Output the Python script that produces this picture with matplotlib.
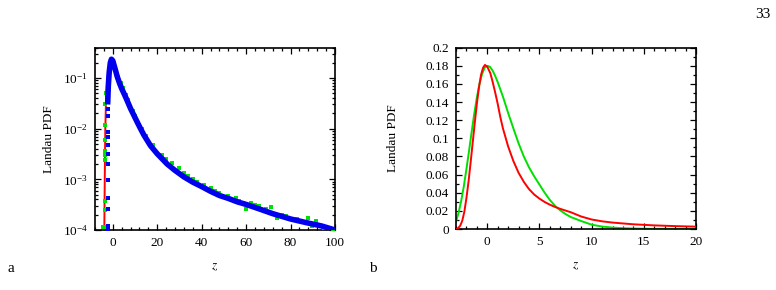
import matplotlib
matplotlib.use('Agg')
import matplotlib.pyplot as plt
from matplotlib.ticker import MultipleLocator, LogLocator, NullFormatter

plt.rcParams['font.family'] = ['Liberation Serif', 'DejaVu Serif']
plt.rcParams['mathtext.fontset'] = 'stix'
plt.rcParams['font.size'] = 9.5

#Panel a: sampled Landau PDF (log scale)
blue_z = [-2.3, -2.0, -1.6, -1.1, -0.6, 0, 1, 2, 3, 4, 5, 6, 8, 11, 12.5, 14, 17, 20, 24.5, 28, 32,
          36, 40, 44, 48, 52, 56, 60, 66, 72, 80, 87, 94, 100]
blue_v = [0.03, 0.07, 0.13, 0.2, 0.235, 0.22, 0.155, 0.107, 0.08, 0.062, 0.05, 0.04, 0.025, 0.0135,
          0.01, 0.0075, 0.0046, 0.0032, 0.002, 0.0015, 0.00112, 0.00088, 0.00072, 0.00058, 0.00048,
          0.00042, 0.00036, 0.00032, 0.00026, 0.00021, 0.000165, 0.00014, 0.00012, 0.0001]
#left edge column of blue samples
blue_col_z = [-2.1, -2.1, -2.1, -2.1, -2.1, -2.1, -2.1, -2.1, -2.1, -2.1, -2.1, -2.1]
blue_col_v = [0.025, 0.018, 0.0087, 0.0068, 0.0047, 0.0032, 0.002, 0.00095, 0.00042, 0.00026, 0.00012, 0.0001]

#green samples: left column and scatter along the curve
green_z = [-3.6, -3.6, -3.6, -3.6, -3.6, -3.6, -3.6, -3.5, -3.3, -3.1, -4.3,
           0.5, 1.5, 2.5, 3.5, 4.5, 6, 7, 9, 10, 13, 15, 18, 22, 24, 26.8, 30, 32, 34, 36, 38, 41,
           44, 46, 48, 52, 55.3, 57, 59.8, 62, 64, 66, 69, 71, 74, 76, 78, 83, 87.7, 89.8, 91.3,
           95, 99]
green_v = [0.0059, 0.0037, 0.003, 0.0024, 0.00038, 0.00025, 0.000115, 0.012, 0.03, 0.05, 0.000115,
           0.2, 0.14, 0.103, 0.08, 0.064, 0.047, 0.037, 0.022, 0.018, 0.0098, 0.0072, 0.0047,
           0.003, 0.0025, 0.0021, 0.00165, 0.00135, 0.00118, 0.00103, 0.00089, 0.00079, 0.00066,
           0.0006, 0.00054, 0.00046, 0.00043, 0.00037, 0.00026, 0.00034, 0.00031, 0.0003,
           0.00026, 0.00028, 0.00017, 0.0002, 0.00019, 0.000165, 0.00017, 0.00012, 0.000148,
           0.00011, 0.000105]

#red curve (panel a)
red_a_z = [-3.8, -3.6, -3.35, -3.0, -2.4, -1.6, -1.0, -0.6, 0, 1, 2, 4, 6, 8, 11, 14, 20, 28, 36,
           44, 52, 60, 72, 80, 90, 100]
red_a_v = [0.0001, 0.001, 0.01, 0.04, 0.1, 0.17, 0.22, 0.235, 0.22, 0.155, 0.107, 0.062, 0.04,
           0.025, 0.0135, 0.0075, 0.0032, 0.0015, 0.00088, 0.00058, 0.00042, 0.00032, 0.00021,
           0.000165, 0.000128, 0.0001]

#Panel b: Landau PDF (red) and approximation (green), linear scale
red_b_z = [-3.0, -2.8, -2.6, -2.4, -2.2, -2.0, -1.8, -1.6, -1.4, -1.2, -1.0, -0.8, -0.6, -0.4,
           -0.22, 0.0, 0.29, 0.5, 0.77, 1.0, 1.24, 1.5, 2.0, 2.5, 3.0, 3.5, 4.0, 4.5, 5.0, 5.5,
           6.0, 6.5, 7.0, 8.0, 9.0, 10, 11, 12, 14, 16, 18, 20]
red_b_v = [0.0, 0.001, 0.0035, 0.009, 0.019, 0.034, 0.052, 0.073, 0.095, 0.117, 0.138, 0.156,
           0.17, 0.178, 0.181, 0.179, 0.172, 0.163, 0.15, 0.138, 0.124, 0.111, 0.091, 0.075,
           0.062, 0.052, 0.044, 0.038, 0.0335, 0.0298, 0.0268, 0.0243, 0.0222, 0.0185, 0.0138,
           0.0105, 0.0085, 0.0071, 0.0052, 0.004, 0.0032, 0.0026]
green_b_z = [-3.0, -2.75, -2.5, -2.25, -2.0, -1.75, -1.5, -1.25, -1.0, -0.75, -0.5, -0.25, 0.0,
             0.25, 0.5, 0.75, 1.0, 1.5, 2.0, 2.5, 3.0, 3.5, 4.0, 4.5, 5.0, 5.5, 6.0, 6.5, 7.0,
             7.5, 8.0, 9.0, 10, 11, 12, 13, 14, 16, 18, 20]
green_b_v = [0.008, 0.018, 0.031, 0.047, 0.066, 0.086, 0.107, 0.127, 0.145, 0.16, 0.171, 0.178,
             0.18, 0.179, 0.175, 0.169, 0.162, 0.146, 0.128, 0.111, 0.0945, 0.08, 0.068, 0.058,
             0.049, 0.04, 0.032, 0.0255, 0.0205, 0.0165, 0.0132, 0.0088, 0.0048, 0.0027, 0.0016,
             0.0009, 0.0005, 0.00015, 0.00004, 0.0]

fig = plt.figure(figsize=(7.76, 2.90), dpi=100)

ax1 = fig.add_axes([0.1224, 0.2069, 0.3093, 0.6293])
ax1.plot(red_a_z, red_a_v, color='#ff0000', lw=1.4, zorder=2)
ax1.plot(green_z, green_v, 's', color='#00e000', ms=2.4, mew=0, zorder=3)
ax1.plot(blue_z, blue_v, '-', color='#0000ee', lw=4.0, solid_capstyle='butt', zorder=4)
ax1.plot(blue_col_z, blue_col_v, 's', color='#0000ee', ms=2.6, mew=0, zorder=4)
ax1.set_yscale('log')
ax1.set_xlim(-8, 100)
ax1.set_ylim(1e-4, 0.4)
ax1.xaxis.set_major_locator(MultipleLocator(20))
ax1.xaxis.set_minor_locator(MultipleLocator(4))
ax1.yaxis.set_major_locator(LogLocator(base=10, numticks=10))
ax1.yaxis.set_minor_locator(LogLocator(base=10, subs=range(2, 10), numticks=10))
ax1.yaxis.set_minor_formatter(NullFormatter())
ax1.set_xlabel('$z$', labelpad=9)
ax1.set_ylabel('Landau PDF', labelpad=6)

ax2 = fig.add_axes([0.5876, 0.2103, 0.3093, 0.6252])
ax2.plot(red_b_z, red_b_v, color='#ff0000', lw=1.4, zorder=3)
ax2.plot(green_b_z, green_b_v, color='#00e000', lw=1.4, zorder=2)
ax2.set_xlim(-3, 20)
ax2.set_ylim(0, 0.2)
ax2.xaxis.set_major_locator(MultipleLocator(5))
ax2.xaxis.set_minor_locator(MultipleLocator(1))
ax2.yaxis.set_major_locator(MultipleLocator(0.02))
ax2.yaxis.set_minor_locator(MultipleLocator(0.01))
ax2.yaxis.set_major_formatter(plt.FuncFormatter(lambda v, p: ('%.2f' % v).rstrip('0').rstrip('.') if v else '0'))
ax2.set_xlabel('$z$', labelpad=9)
ax2.set_ylabel('Landau PDF', labelpad=19)

for ax in (ax1, ax2):
    for s in ax.spines.values():
        s.set_linewidth(1.2)
    ax.tick_params(which='both', direction='in', top=True, right=True, width=0.9)
    ax.tick_params(which='major', length=4.5, labelsize=9.5, pad=5)
    ax.tick_params(which='minor', length=2.5)

fig.text(8 / 776, 1 - 268 / 290, 'a', fontsize=11, va='center')
fig.text(369 / 776, 1 - 268 / 290, 'b', fontsize=11, va='center')
fig.text(770 / 776, 1 - 14 / 290, '33', fontsize=11, ha='right', va='center')

plt.savefig('out.png', dpi=100)
print("Created out.png")
